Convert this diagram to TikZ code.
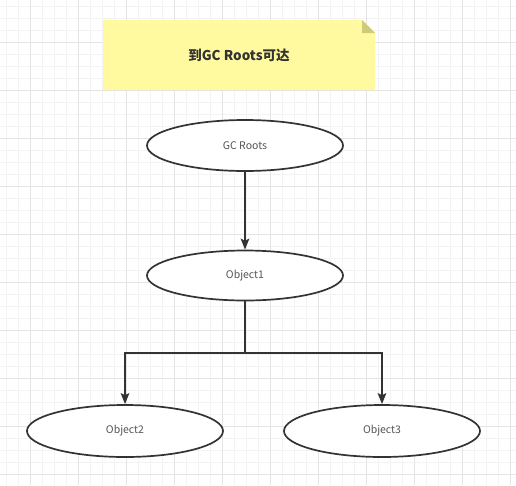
\documentclass[tikz,border=0pt]{standalone}
\usepackage{fontspec}
\setmainfont{Noto Sans CJK SC}
\usetikzlibrary{shapes.geometric,arrows.meta}
\definecolor{gridminor}{HTML}{F3F3F3}
\definecolor{gridmajor}{HTML}{E4E4E4}
\definecolor{notefill}{HTML}{FFFA9F}
\definecolor{notefold}{HTML}{CFCB7C}
\definecolor{linec}{HTML}{333333}
\definecolor{textc}{HTML}{555555}
\definecolor{titlec}{HTML}{333333}
\tikzset{
  objnode/.style={ellipse, draw=linec, line width=1.7pt, fill=white, inner sep=0pt,
    minimum width=196pt, minimum height=51pt, text=textc, font=\fontsize{10.5}{12}\selectfont},
  conn/.style={draw=linec, line width=1.9pt, -{Stealth[length=11pt,width=8.5pt,inset=2pt]}},
  minorline/.style={draw=gridminor, line width=0.7pt},
  majorline/.style={draw=gridmajor, line width=0.9pt}
}
\begin{document}
\begin{tikzpicture}[x=1pt,y=-1pt]
\useasboundingbox (0,0) rectangle (516,485);
\fill[white] (0,0) rectangle (516,485);
% grid
\foreach \i in {0,...,42} \draw[minorline] (6.3+12*\i,0) -- (6.3+12*\i,485);
\foreach \i in {0,...,39} \draw[minorline] (0,6.5+12*\i) -- (516,6.5+12*\i);
\foreach \i in {0,...,10} \draw[majorline] (30.3+48*\i,0) -- (30.3+48*\i,485);
\foreach \i in {0,...,9} \draw[majorline] (0,42.5+48*\i) -- (516,42.5+48*\i);
% note
\fill[notefill] (103,20) -- (362,20) -- (375,33) -- (375,90) -- (103,90) -- cycle;
\fill[notefold] (362,20) -- (362,33) -- (375,33) -- cycle;
\node[text=titlec, font=\bfseries\fontsize{13.5}{16}\selectfont] (title) at (239,55) {到GC Roots可达};
% nodes
\node[objnode] (gc) at (245,145.5) {GC Roots};
\node[objnode, minimum height=50pt] (o1) at (245,275.5) {Object1};
\node[objnode, minimum height=52pt] (o2) at (125,431) {Object2};
\node[objnode, minimum height=52pt] (o3) at (382,431) {Object3};
\coordinate (br) at (245,353);
% connectors
\draw[conn] (gc) -- (o1);
\draw[conn] (o1.south) -- (br) -| (o2.north);
\draw[conn] (br) -| (o3.north);
\end{tikzpicture}
\end{document}
